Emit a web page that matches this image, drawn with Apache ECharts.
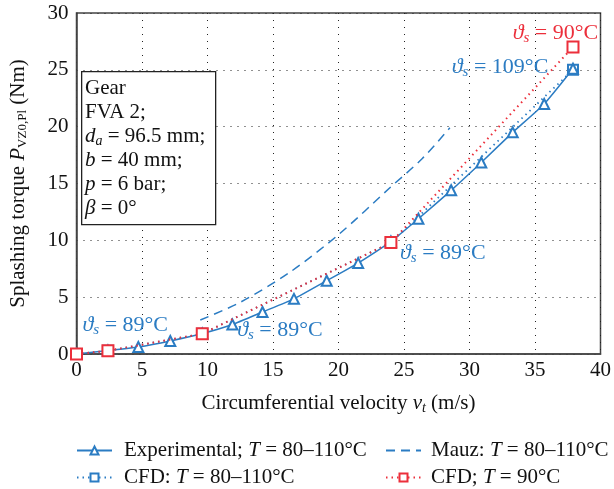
<!DOCTYPE html>
<html>
<head>
<meta charset="utf-8">
<script src="https://cdn.jsdelivr.net/npm/echarts@6/dist/echarts.min.js"></script>
<style>
  html, body { margin: 0; padding: 0; background: #fff; }
  #chart { width: 614px; height: 489px; }
</style>
</head>
<body>
<div id="chart"></div>
<script>
// Splashing torque versus circumferential velocity
const xTicks = [0, 5, 10, 15, 20, 25, 30, 35, 40];
const yTicks = [0, 5, 10, 15, 20, 25, 30];

const expV = [0, 2.4, 4.72, 7.16, 9.6, 11.9, 14.2, 16.6, 19.1, 21.5, 24.0, 26.1, 28.6, 30.9, 33.3, 35.7, 37.9];
const expT = [0, 0.3, 0.62, 1.15, 1.8, 2.6, 3.7, 4.85, 6.45, 8.0, 9.9, 11.9, 14.4, 16.85, 19.5, 22.0, 25.1];

const mauzV = [9.45, 12.5, 16.3, 20.1, 23.9, 26.4, 28.5];
const mauzT = [2.99, 4.55, 7.2, 10.6, 14.6, 17.2, 19.9];

const cfdV = [0, 2.4, 9.6, 24.0, 37.9];
const cfdT = [0, 0.28, 1.78, 9.8, 25.0];

const cfd90V = [0, 2.4, 9.6, 24.0, 37.9];
const cfd90T = [0, 0.28, 1.78, 9.8, 27.0];

const names = [
  'Experimental; T = 80–110°C',
  'Mauz: T = 80–110°C',
  'CFD: T = 80–110°C',
  'CFD; T = 90°C'
];

const BLUE = '#2b7cc3';
const RED = '#ec2f3b';
const INK = '#111';
const SERIF = '"Liberation Serif", "DejaVu Serif", serif';

const zip = (a, b) => a.map((v, i) => [v, b[i]]);

// surface temperature labels: [x, y, text, colour]
const notes = [
  [0.46, 2.55, '89', BLUE],
  [12.27, 2.11, '89', BLUE],
  [24.7, 8.88, '89', BLUE],
  [28.65, 25.24, '109', BLUE],
  [33.3, 28.23, '90', RED]
];

const noteRich = (c) => ({
  th: { fontFamily: SERIF, fontStyle: 'italic', fontSize: 22, color: c },
  s: { fontFamily: SERIF, fontStyle: 'italic', fontSize: 15, color: c, verticalAlign: 'bottom', padding: [10, 0, 0, 0] },
  t: { fontFamily: SERIF, fontSize: 22, color: c }
});

const chart = echarts.init(document.getElementById('chart'));

const legendRich = (gap) => ({
  fontFamily: SERIF, fontSize: 21, color: INK,
  rich: {
    g: { width: gap },
    n: { fontFamily: SERIF, fontSize: 21, color: INK },
    i: { fontFamily: SERIF, fontSize: 21, fontStyle: 'italic', color: INK }
  }
});
const legendFmt = (n) => {
  const p = n.split('T');
  return '{g|}{n|' + p[0] + '}{i|T}{n|' + p[1] + '}';
};
const legendAt = (item, left, top, gap) => ({
  data: [item], left: left, top: top, itemWidth: 35, itemHeight: 10, itemGap: 0,
  textStyle: legendRich(gap), formatter: legendFmt, selectedMode: false, padding: 0
});

const axisRich = {
  n: { fontFamily: SERIF, fontSize: 21, color: INK },
  i: { fontFamily: SERIF, fontSize: 21, fontStyle: 'italic', color: INK },
  s: { fontFamily: SERIF, fontSize: 14, fontStyle: 'italic', color: INK, verticalAlign: 'bottom', padding: [9, 0, 0, 0] },
  u: { fontFamily: SERIF, fontSize: 13, color: INK, verticalAlign: 'bottom', padding: [9, 0, 0, 0] }
};

chart.setOption({
  animation: false,
  backgroundColor: '#fff',
  grid: { left: 76, right: 13, top: 13, bottom: 135, show: true, borderColor: '#444', borderWidth: 1.5 },
  legend: [
    legendAt(names[0], 76, 440, 7),
    legendAt({ name: names[1], itemStyle: { opacity: 0 } }, 385, 440, 5),
    legendAt(names[2], 76, 467, 7),
    legendAt(names[3], 385, 467, 5)
  ],
  xAxis: {
    type: 'value', min: 0, max: 40, interval: 5,
    name: '{n|Circumferential velocity }{i|v}{s|t}{n| (m/s)}',
    nameLocation: 'middle', nameGap: 38,
    nameTextStyle: { rich: axisRich },
    axisLine: { lineStyle: { color: '#444', width: 1.5 } },
    axisTick: { show: false },
    axisLabel: { fontFamily: SERIF, fontSize: 21, color: INK, margin: 6,
      formatter: (v) => xTicks.includes(v) ? String(v) : '' },
    splitLine: { lineStyle: { color: '#222', type: [1, 6], width: 1 } }
  },
  yAxis: {
    type: 'value', min: 0, max: 30, interval: 5,
    name: '{n|Splashing torque }{i|P}{u|VZ0,Pl}{n| (Nm)}',
    nameLocation: 'middle', nameGap: 47, nameRotate: 90,
    nameTextStyle: { rich: axisRich },
    axisLine: { lineStyle: { color: '#444', width: 1.5 } },
    axisTick: { show: false },
    axisLabel: { fontFamily: SERIF, fontSize: 21, color: INK, margin: 8,
      formatter: (v) => yTicks.includes(v) ? String(v) : '' },
    splitLine: { lineStyle: { color: '#222', type: [1, 6], width: 1 } }
  },
  series: [
    {
      name: names[1], type: 'line', data: zip(mauzV, mauzT), smooth: 0.3,
      symbol: 'none', lineStyle: { color: BLUE, width: 1.5, type: [9, 6] },
      itemStyle: { color: BLUE }, z: 2
    },
    {
      name: names[2], type: 'line', data: zip(cfdV, cfdT),
      symbol: 'emptyRect', symbolSize: 10,
      lineStyle: { color: BLUE, width: 1.8, type: [1.5, 4] },
      itemStyle: { color: BLUE, borderColor: BLUE, borderWidth: 1.8 }, z: 3
    },
    {
      name: names[0], type: 'line', data: zip(expV, expT), smooth: 0.15,
      symbol: 'emptyTriangle', symbolSize: 10,
      lineStyle: { color: BLUE, width: 1.5 },
      itemStyle: { color: BLUE, borderColor: BLUE, borderWidth: 1.6 }, z: 4
    },
    {
      name: names[3], type: 'line', data: zip(cfd90V, cfd90T),
      symbol: 'emptyRect', symbolSize: 11,
      lineStyle: { color: RED, width: 2, type: [1.5, 4] },
      itemStyle: { color: RED, borderColor: RED, borderWidth: 2 }, z: 5,
      markPoint: {
        symbol: 'rect', symbolSize: 0, silent: true,
        data: notes.map((n) => ({
          coord: [n[0], n[1]],
          label: {
            show: true, position: 'right', distance: 0,
            formatter: '{th|ϑ}{s|s}{t| = ' + n[2] + '°C}',
            rich: noteRich(n[3])
          }
        }))
      }
    }
  ],
  graphic: [
    {
      type: 'rect', left: 81, top: 71, z: 10,
      shape: { width: 134, height: 153 },
      style: { fill: '#fff', stroke: '#222', lineWidth: 1.3 }
    },
    {
      type: 'text', left: 85, top: 76, z: 11,
      style: {
        text: 'Gear\nFVA 2;\n{i|d}{s|a}{n| = 96.5 mm;}\n{i|b}{n| = 40 mm;}\n{i|p}{n| = 6 bar;}\n{i|β}{n| = 0°}',
        fontFamily: SERIF, fontSize: 21, lineHeight: 24, fill: INK,
        rich: {
          n: { fontFamily: SERIF, fontSize: 21, lineHeight: 24, fill: INK },
          i: { fontFamily: SERIF, fontSize: 21, lineHeight: 24, fontStyle: 'italic', fill: INK },
          s: { fontFamily: SERIF, fontSize: 14, lineHeight: 24, fontStyle: 'italic', fill: INK, verticalAlign: 'bottom' }
        }
      }
    }
  ]
});
</script>
</body>
</html>
